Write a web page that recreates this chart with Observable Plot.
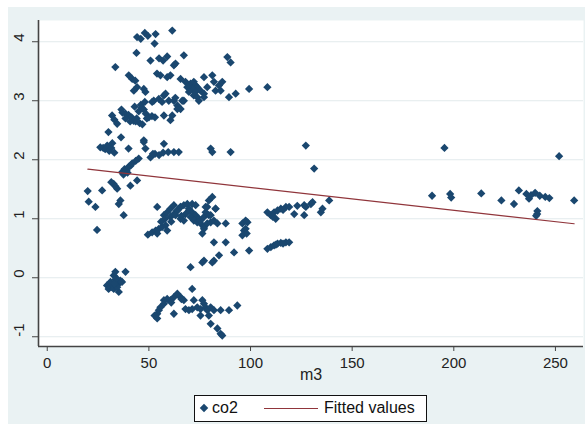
<!DOCTYPE html>
<html>
<head>
<meta charset="utf-8">
<script src="https://cdn.jsdelivr.net/npm/d3@7"></script>
<script src="https://cdn.jsdelivr.net/npm/@observablehq/plot@0.6"></script>
<style>
  html, body { margin: 0; padding: 0; background: #ffffff; }
  #wrap { position: relative; width: 585px; height: 424px; background: #ffffff; overflow: hidden;
          font-family: "Liberation Sans", Arial, sans-serif; }
  #bg { position: absolute; left: 8px; top: 7px; right: 0; bottom: 0; background: #eaf2f3; }
  #chart { position: absolute; left: 0; top: 0; }
  #legend { position: absolute; left: 194px; top: 395px; width: 231px; height: 25px;
            border: 1.5px solid #111; background: #ffffff; font-size: 16px; color: #111; }
  #legend .dia { position: absolute; left: 6px; top: 9px; width: 6px; height: 6px; background: #1a476f; transform: rotate(45deg); }
  #legend .t1 { position: absolute; left: 17px; top: 3px; }
  #legend .ln { position: absolute; left: 69px; top: 12px; width: 54px; height: 0; border-top: 1.5px solid #90353b; }
  #legend .t2 { position: absolute; left: 129px; top: 3px; }
</style>
</head>
<body>
<div id="wrap">
  <div id="bg"></div>
  <div id="chart"></div>
  <div id="legend"><span class="dia"></span><span class="t1">co2</span><span class="ln"></span><span class="t2">Fitted values</span></div>
</div>
<script>
// co2 vs m3 scatter
const m3 = [
  19.9,20.4,23.7,27,24.5,32.7,34.4,33.5,31.5,36,35.2,37.6,40.9,44.2,36.8,38,39,40,41,41.8,37.5,39.5,
  26.1,27.5,28.5,29.5,30.5,31.5,32,33,30.1,36.3,40,47.5,48.3,45,43.5,50.8,53,55,57,59.5,62.3,64.7,57.4,47.5,52,80.4,81.2,90.2,
  44.2,46,48,49.5,53.3,61.5,52.8,43.9,50.8,55,57,59,62.3,67.2,88.6,90.2,33.5,63.1,
  40.1,41.8,43.3,44.2,42.6,47.5,48.3,54,55.7,59,60.6,
  65.6,68,70.5,72.1,73,73.8,75.4,71.3,68.9,69.7,72.1,73.8,74.6,72.9,77.1,77.1,78.7,81.2,82,82.8,84.5,86.1,85.3,77.1,67.2,62.3,64,65.6,61.5,60.6,89.4,92.7,99.3,108.3,
  52.4,54.9,57.4,58.2,59.8,64,66.4,51.6,56.5,57.4,63,
  31.9,33,34.4,37,38.5,40,41.5,42.5,44,45,46.5,47.5,48.5,50,51.5,53,45.5,43.5,46.8,40.8,49,38.5,43,46,48,36.5,
  127.2,131.3,195.4,251.8,
  189.3,198.2,198.7,213.5,223.4,229.6,232,235.7,237,238,240,242.3,245,247,259.2,241.1,241,240.5,
  108.3,110,111.6,113.3,114.9,117.4,112.4,111,119,121.5,126.4,127.2,129.7,130.5,126.4,134.6,135.4,138.7,123,116,
  108.3,110,111.6,113.3,114.9,117.4,119,112.5,116,
  49.5,51.6,53.3,54.9,56.5,58.2,59,54.1,54.1,57.4,59,60.6,62.3,64,65.6,67.2,68.9,69.7,71.3,73,74.6,75.4,77.1,78.7,80.4,82.8,83.7,87.8,
  60.6,62.3,64,65.6,71.3,73,69.7,68,70.5,65.6,63.1,67.2,72.1,73.8,75.4,77.1,77.9,79.5,80.4,82,78.7,77.1,76.3,77.9,79.5,81.2,82.8,
  96,97.6,96.8,96,98.5,97.6,98.1,56,58,61,66,
  82,87.8,91.9,99.3,84.5,82,81.2,77.1,76.3,70.5,
  29.4,31.1,32.7,33.5,34.4,35.2,36,31.9,30.2,32.7,35.2,38.5,34.4,33.5,36.8,33,
  52.8,54.1,54.9,55.7,57.4,59,60.6,62.3,64,65.6,67.2,62.3,68,69.7,71.3,72.1,73.8,75.4,76.3,77.1,77.9,78.7,79.5,80.4,82,85.3,89.4,93.5,71.3,80.4,83.7,85.3,86.1,54.1,57.4,75.4,61,66
];
const co2 = [
  1.47,1.29,1.2,1.48,0.81,1.59,1.51,1.55,1.62,1.31,1.25,1.06,1.56,1.65,1.79,1.84,1.82,1.88,1.9,1.94,1.75,1.78,
  2.21,2.2,2.18,2.24,2.15,2.2,2.28,2.12,2.47,2.38,2.19,2.3,2.19,2.02,1.98,2.04,2.1,2.08,2.12,2.13,2.13,2.13,2.27,2.33,2.1,2.19,2.13,2.13,
  4.08,4.05,4.15,4.1,4.13,4.19,3.97,3.81,3.68,3.72,3.68,3.75,3.6,3.77,3.74,3.65,3.57,3.63,
  3.43,3.37,3.34,3.23,3.17,3.2,3.15,3.46,3.43,3.4,3.43,
  3.37,3.32,3.29,3.32,3.26,3.23,3.17,3.2,3.23,3.15,3.09,3.06,3.0,3.15,3.4,3.12,3.23,3.43,3.32,3.17,3.26,3.32,3.17,3.06,3.0,3.0,2.92,2.86,2.75,2.67,3.06,3.12,3.2,3.23,
  3.0,3.03,3.09,3.12,3.0,2.86,3.0,2.98,2.98,2.75,3.05,
  2.75,2.68,2.61,2.8,2.78,2.76,2.72,2.66,2.7,2.82,2.88,2.85,2.78,2.72,2.74,2.72,2.62,2.65,2.6,2.65,2.7,2.7,2.9,2.93,2.98,2.85,
  2.24,1.85,2.2,2.06,
  1.39,1.42,1.36,1.43,1.31,1.25,1.48,1.42,1.34,1.4,1.44,1.39,1.37,1.35,1.31,1.13,1.08,1.05,
  1.11,1.06,1.11,1.14,1.17,1.2,1.0,1.03,1.2,1.08,1.23,1.2,1.25,1.28,1.06,1.11,1.17,1.31,1.22,1.15,
  0.49,0.52,0.55,0.58,0.59,0.6,0.6,0.56,0.58,
  0.73,0.77,0.8,0.83,0.86,0.89,0.8,0.75,1.2,1.06,1.11,1.03,1.08,1.14,1.2,1.23,1.25,1.17,1.11,1.06,1.0,0.92,0.86,1.2,1.06,1.17,0.92,0.92,
  1.17,1.23,1.14,1.2,1.25,1.23,1.14,1.08,1.03,1.0,1.06,0.97,0.97,0.94,0.97,1.03,1.11,1.06,0.94,0.97,0.92,0.83,0.75,1.2,1.31,1.37,1.17,
  0.92,0.97,0.8,0.72,0.94,0.83,0.75,0.95,1.0,0.95,1.05,
  0.6,0.6,0.43,0.46,0.38,0.29,0.26,0.29,0.26,0.18,
  -0.13,-0.07,0.04,0.1,-0.02,-0.1,-0.05,-0.16,-0.19,-0.19,-0.24,0.1,-0.16,-0.03,-0.07,-0.1,
  -0.64,-0.61,-0.55,-0.5,-0.38,-0.36,-0.38,-0.33,-0.27,-0.33,-0.38,-0.61,-0.53,-0.55,-0.53,-0.38,-0.5,-0.53,-0.38,-0.44,-0.5,-0.55,-0.64,-0.5,-0.55,-0.55,-0.55,-0.47,-0.19,-0.78,-0.86,-0.95,-0.98,-0.69,-0.44,-0.64,-0.42,-0.36
];
const fitM3 = [20, 259.2];
const fitCo2 = [1.84, 0.915];
const xTicks = [0, 50, 100, 150, 200, 250];
const yTicks = [-1, 0, 1, 2, 3, 4];

const n = Math.min(m3.length, co2.length);
const points = d3.range(n).map(i => ({m3: m3[i], co2: co2[i]}));
const fit = fitM3.map((x, i) => ({m3: x, co2: fitCo2[i]}));

const xDom = [-4.3, 263.8];
const yDom = [-1.165, 4.36];

const chart = Plot.plot({
  width: 585,
  height: 424,
  marginLeft: 38,
  marginRight: 2,
  marginTop: 20,
  marginBottom: 78,
  x: {domain: xDom},
  y: {domain: yDom},
  style: {background: "transparent", fontFamily: "'Liberation Sans', Arial, sans-serif", color: "#222"},
  marks: [
    Plot.frame({fill: "white", stroke: null}),
    Plot.gridY(yTicks, {stroke: "#e2eaec", strokeOpacity: 1, strokeWidth: 1}),
    Plot.dot(points, {x: "m3", y: "co2", symbol: "square", rotate: 45, r: 3.3, fill: "#1a476f", stroke: null}),
    Plot.line(fit, {x: "m3", y: "co2", stroke: "#90353b", strokeWidth: 1.2}),
    Plot.ruleX([xDom[0]], {stroke: "#444", strokeWidth: 1.6}),
    Plot.ruleY([yDom[0]], {stroke: "#444", strokeWidth: 1.6}),
    Plot.axisX(xTicks, {tickSize: 5, tickPadding: 6, fontSize: 15, tickFormat: d => String(d), label: null, stroke: "#444", fill: "#222"}),
    Plot.axisY(yTicks, {tickSize: 6, tickFormat: () => "", label: null, stroke: "#444"}),
    Plot.text(yTicks, {y: d => d, frameAnchor: "left", dx: -19, rotate: -90, text: d => String(d), fontSize: 15, fill: "#222"}),
    Plot.text(["m3"], {frameAnchor: "bottom", dy: 33, text: d => d, fontSize: 16, fill: "#222"})
  ]
});
document.getElementById("chart").appendChild(chart);
</script>
</body>
</html>
